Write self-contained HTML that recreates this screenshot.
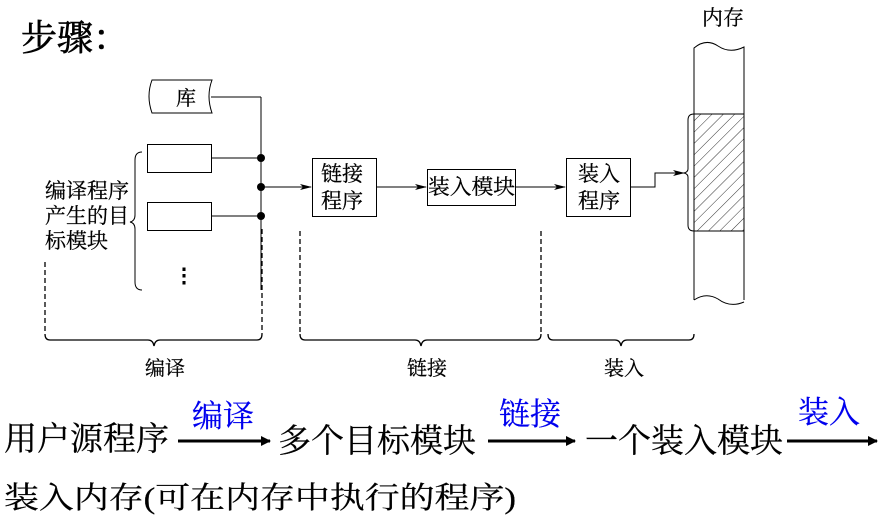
<!DOCTYPE html>
<html><head><meta charset="utf-8"><style>
html,body{margin:0;padding:0;background:#fff;}
svg{display:block;}
text{font-family:"Liberation Serif","Noto Serif CJK SC","Noto Sans CJK SC",serif;fill:#000;stroke:#000;stroke-width:0.25px;}
text.blue{fill:#0000ee;stroke:#0000ee;}
</style></head><body>
<svg width="884" height="527" viewBox="0 0 884 527" xmlns="http://www.w3.org/2000/svg">
<defs>
<marker id="ah" markerWidth="12" markerHeight="8" refX="11" refY="4" orient="auto" markerUnits="userSpaceOnUse">
<path d="M0,1 L12,4 L0,7 L3,4 Z" fill="#000"/></marker>
<marker id="ab" markerWidth="10" markerHeight="10" refX="9" refY="5" orient="auto" markerUnits="userSpaceOnUse">
<path d="M0,0 L10,5 L0,10 Z" fill="#000"/></marker>
<pattern id="hatch" width="8" height="8" patternUnits="userSpaceOnUse" patternTransform="rotate(45)">
<line x1="0" y1="0" x2="0" y2="8" stroke="#000" stroke-width="0.8"/></pattern>
</defs>
<text x="21" y="50" font-size="36" style="stroke-width:0.6px">步骤：</text>

<path d="M152,80 L212,80 Q206,96 212,113 L152,113 Q146,96 152,80 Z" fill="none" stroke="#000"/>
<text x="176" y="105" font-size="20">库</text>
<line x1="211" y1="97" x2="261" y2="97" stroke="#000"/>
<line x1="261" y1="97" x2="261" y2="290" stroke="#000"/>
<rect x="147.5" y="144.5" width="64" height="28" fill="none" stroke="#000"/>
<rect x="147.5" y="202.5" width="64" height="28" fill="none" stroke="#000"/>
<line x1="211" y1="158" x2="261" y2="158" stroke="#000"/>
<line x1="211" y1="216" x2="261" y2="216" stroke="#000"/>
<circle cx="261" cy="158" r="4"/><circle cx="261" cy="187" r="4"/><circle cx="261" cy="216" r="4"/>
<line x1="261" y1="187" x2="311" y2="187" stroke="#000" marker-end="url(#ah)"/>
<text x="174" y="282" font-size="20" font-weight="bold">⋮</text>
<path d="M142,152 Q135,152 135,160 L135,215 Q135,221 130,222 Q135,223 135,229 L135,282 Q135,290 142,290" fill="none" stroke="#000"/>
<text font-size="21"><tspan x="45" y="198">编译程序</tspan><tspan x="45" y="223">产生的目</tspan><tspan x="45" y="248">标模块</tspan></text>

<rect x="312.5" y="158.5" width="64" height="58" fill="none" stroke="#000"/>
<text font-size="21"><tspan x="321" y="181">链接</tspan><tspan x="321" y="208">程序</tspan></text>
<line x1="376" y1="187" x2="426" y2="187" stroke="#000" marker-end="url(#ah)"/>
<rect x="427.5" y="169.5" width="88" height="36" fill="none" stroke="#000"/>
<text x="428" y="194" font-size="21" textLength="87" lengthAdjust="spacingAndGlyphs">装入模块</text>
<line x1="515" y1="187" x2="565" y2="187" stroke="#000" marker-end="url(#ah)"/>
<rect x="566.5" y="158.5" width="64" height="58" fill="none" stroke="#000"/>
<text font-size="21"><tspan x="578" y="181">装入</tspan><tspan x="578" y="208">程序</tspan></text>
<polyline points="630,187 655,187 655,173 684,173" fill="none" stroke="#000" marker-end="url(#ah)"/>

<text x="702" y="25" font-size="21">内存</text>
<rect x="694" y="114" width="50" height="117" fill="url(#hatch)"/>
<path d="M694,300 L694,48 Q706,38 718,46 Q730,54 744,47 L744,300" fill="none" stroke="#000"/>
<path d="M694,300 Q706,292 718,299 Q730,308 744,302" fill="none" stroke="#000"/>
<line x1="694" y1="114" x2="744" y2="114" stroke="#000"/>
<line x1="694" y1="231" x2="744" y2="231" stroke="#000"/>
<path d="M694,114 Q688,114 688,120 L688,169 Q688,172 684,173 Q688,174 688,177 L688,225 Q688,231 694,231" fill="none" stroke="#000"/>

<g stroke="#000" fill="none" stroke-width="1.3">
<line x1="45" y1="262" x2="45" y2="334" stroke-dasharray="5,3"/>
<line x1="262" y1="229" x2="262" y2="334" stroke-dasharray="5,3"/>
<path d="M45,334 Q45,340 50,340 L148,340 Q153,340 154,346 Q155,340 160,340 L257,340 Q262,340 262,334"/>
<line x1="300" y1="231" x2="300" y2="334" stroke-dasharray="5,3"/>
<line x1="541" y1="231" x2="541" y2="334" stroke-dasharray="5,3"/>
<path d="M300,334 Q300,340 305,340 L415,340 Q420,340 421,346 Q422,340 427,340 L536,340 Q541,340 541,334"/>
<path d="M548,334 Q548,340 553,340 L615,340 Q620,340 621,346 Q622,340 627,340 L689,340 Q694,340 694,334"/>
</g>
<text x="145" y="375" font-size="20">编译</text>
<text x="407" y="375" font-size="20">链接</text>
<text x="604" y="375" font-size="20">装入</text>

<g font-size="33">
<text x="4" y="450">用户源程序</text>
<text x="278" y="452">多个目标模块</text>
<text x="585" y="452">一个装入模块</text>
</g>
<text class="blue" x="192" y="427" font-size="31" style="fill:#0000ee;stroke:#0000ee">编译</text>
<text class="blue" x="499" y="425" font-size="31" style="fill:#0000ee;stroke:#0000ee">链接</text>
<text class="blue" x="798" y="423" font-size="31" style="fill:#0000ee;stroke:#0000ee">装入</text>
<g stroke="#000" stroke-width="3">
<line x1="178" y1="441" x2="270" y2="441" marker-end="url(#ab)"/>
<line x1="488" y1="441" x2="575" y2="441" marker-end="url(#ab)"/>
<line x1="787" y1="441" x2="877" y2="441" marker-end="url(#ab)"/>
</g>
<text x="4" y="508" font-size="30" textLength="512" lengthAdjust="spacingAndGlyphs">装入内存(可在内存中执行的程序)</text>
</svg>
</body></html>
